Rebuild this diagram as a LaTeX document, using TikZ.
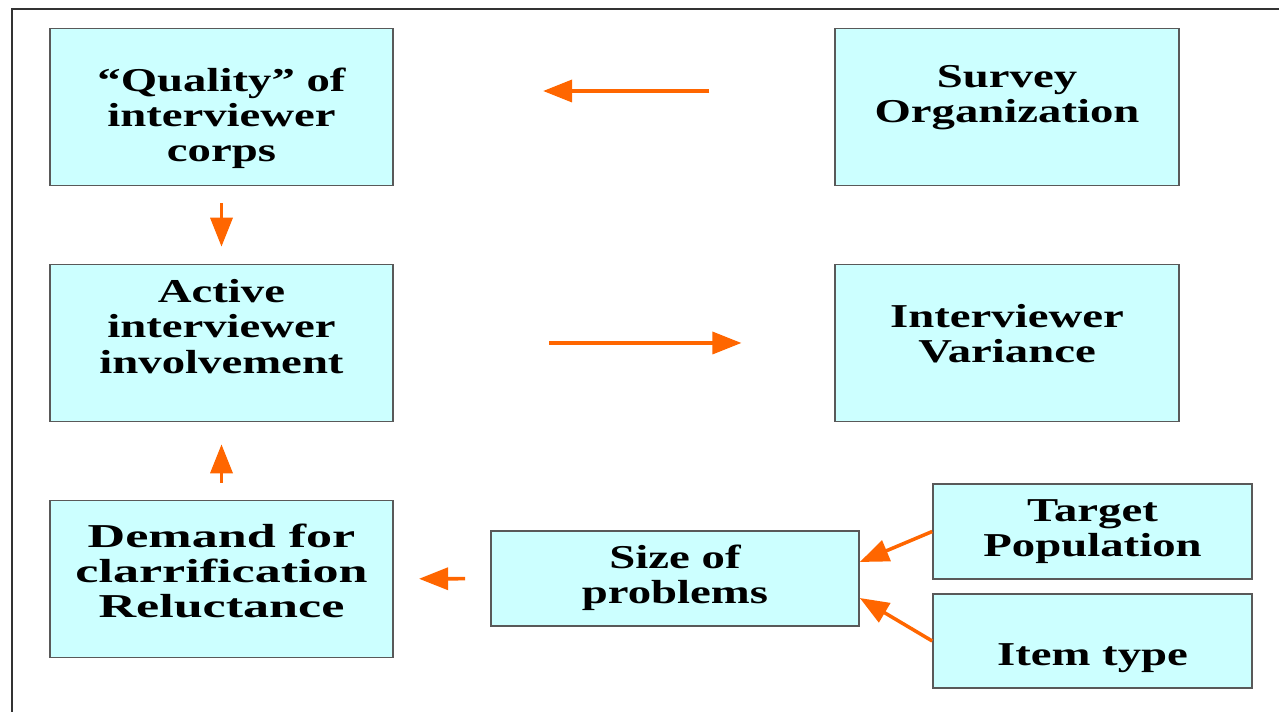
\documentclass[tikz,border=0pt]{standalone}
\usepackage{fontspec}
\setmainfont{Liberation Serif}[FakeStretch=1.40]
\newfontfamily\widefont{Liberation Serif}[FakeStretch=1.56]
\usetikzlibrary{arrows.meta,calc,positioning}
\definecolor{boxfill}{RGB}{204,255,255}
\definecolor{arrowcol}{RGB}{255,102,0}
% lines of a box, raised by #1 from the centre
\newcommand{\boxlines}[2]{\raisebox{#1}[0pt][0pt]{\begin{tabular}{@{}c@{}}#2\end{tabular}}}
\tikzset{%
    factor/.style={%
        rectangle, draw=black!65, line width=0.9pt, fill=boxfill, minimum width=6.87cm, minimum height=3.14cm,
        font=\bfseries\fontsize{19}{20}\selectfont, inner sep=0pt
    },
    smallfactor/.style={%
        factor, minimum width=6.38cm, minimum height=1.89cm
    },
    effect/.style={%
        draw=arrowcol, line width=2pt, -{Triangle[length=0.58cm,width=0.44cm]}
    },
}
\begin{document}
\begin{tikzpicture}
      \useasboundingbox (0,0) rectangle (25.58,-14.24);
      \draw[black!80, line width=1.1pt] (0.24,-14.24) -- (0.24,-0.18) -- (25.58,-0.18);
      \node[factor] (quality) at (4.43,-2.14) {\boxlines{-11.5pt}{``Quality'' of\\interviewer\\corps}};
      \node[factor] (survey) at (20.14,-2.14) {\boxlines{0.9pt}{Survey\\Organization}};
      \node[factor] (active) at (4.43,-6.86) {\boxlines{2.6pt}{Active\\interviewer\\involvement}};
      \node[factor] (variance) at (20.14,-6.86) {\boxlines{-1.5pt}{Interviewer\\Variance}};
      \node[factor, font=\bfseries\widefont\fontsize{19}{20}\selectfont] (demand) at (4.43,-11.58) {\boxlines{-2.2pt}{Demand for\\clarrification\\Reluctance}};
      \node[smallfactor, minimum width=7.36cm] (size) at (13.5,-11.57) {\boxlines{-4.4pt}{Size of\\problems}};
      \node[smallfactor] (target) at (21.85,-10.63) {\boxlines{-4.4pt}{Target\\Population}};
      \node[smallfactor] (item) at (21.85,-12.82) {\boxlines{-14.3pt}{Item type}};
      \draw[effect, shorten <=2.5cm, shorten >=2.98cm] ($(survey.west)+(0,0.32)$) -- ($(quality.east)+(0,0.32)$);
      \draw[effect, shorten <=0.34cm, shorten >=0.34cm] (quality) -- (active);
      \draw[effect, shorten <=3.1cm, shorten >=1.86cm] (active) -- (variance);
      \draw[effect, shorten <=0.34cm, shorten >=0.44cm] (demand) -- (active);
      \draw[effect, shorten <=0.5cm, shorten >=0.5cm] (size) -- (demand);
      \draw[effect] (target.west) -- ($(size.east)+(0,0.33)$);
      \draw[effect] (item.west) -- ($(size.east)+(0,-0.39)$);
\end{tikzpicture}
\end{document}
